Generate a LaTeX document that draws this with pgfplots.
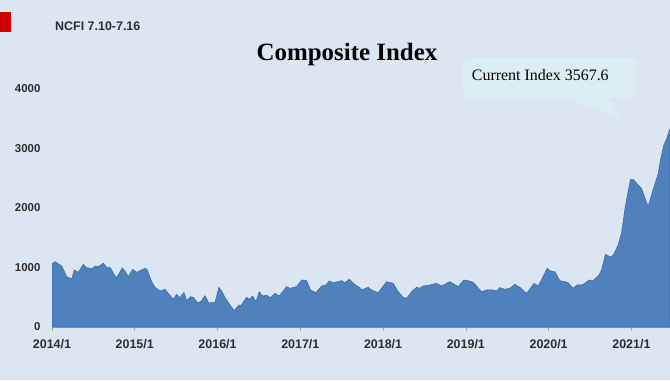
\documentclass[border=0pt]{standalone}
\usepackage{pgfplots}
\pgfplotsset{compat=1.18}
\usepackage{fontspec}
\setmainfont{Liberation Serif}
\newfontfamily\arial{Liberation Sans}
\definecolor{bgc}{HTML}{DCE6F2}
\definecolor{areac}{HTML}{4F81BD}
\definecolor{edgec}{HTML}{3D6DA6}
\definecolor{callc}{HTML}{DAEEF3}
\definecolor{txtc}{HTML}{2E2E2E}
\begin{document}
\begin{tikzpicture}[x=1bp,y=1bp]
\fill[bgc] (0,0) rectangle (670,380);
\useasboundingbox (0,0) rectangle (670,380);
\fill[red!80!black] (0,347.7) rectangle (10.7,368.3);
\node[anchor=base west, inner sep=0, font=\arial\bfseries\fontsize{12.5}{14}\selectfont, text=txtc] at (55,349.3) {NCFI 7.10-7.16};
\node[anchor=base, inner sep=0, font=\bfseries\fontsize{25}{28}\selectfont] at (347,320) {Composite Index};
\begin{axis}[
  at={(52bp,53bp)}, anchor=south west,
  width=618bp, height=238bp, scale only axis,
  xmin=0, xmax=89.6, ymin=0, ymax=4000,
  axis lines*=left,
  y axis line style={draw=none},
  x axis line style={draw=gray!70, line width=0.6bp},
  xtick={0,12,...,84},
  xticklabels={2014/1,2015/1,2016/1,2017/1,2018/1,2019/1,2020/1,2021/1},
  ytick={0,1000,...,4000},
  yticklabels={0,1000,2000,3000,4000},
  x tick style={draw=gray!70, line width=0.6bp},
  tick align=outside,
  major tick length=4bp,
  y tick style={draw=none},
  ymajorgrids,
  major grid style={densely dotted, draw=gray!25, line width=0.5bp},
  xticklabel style={font=\arial\bfseries\fontsize{12.5}{14}\selectfont, text=txtc, yshift=-5bp},
  yticklabel style={font=\arial\bfseries\fontsize{11.5}{13}\selectfont, text=txtc, xshift=-4bp},
  /pgf/number format/assume math mode=true,
  clip=true,
]
\addplot[fill=areac, draw=edgec, line width=0.6bp] table[x=m, y=v] {
m v
0 1059
0.43 1098
1.41 1025
2.13 846
2.86 807
3.23 958
3.81 919
4.54 1053
5.03 997
5.84 980
6.23 1025
6.71 1014
7.43 1070
7.93 1003
8.41 1003
9.28 829
9.61 874
10.19 992
10.58 941
11.06 846
11.70 969
12.28 919
13.0 958
13.48 986
13.81 958
14.45 762
14.93 667
15.65 605
16.38 633
16.86 566
17.58 465
18.07 549
18.55 493
19.13 583
19.52 442
20.10 509
20.48 498
21.12 409
21.59 426
22.17 526
22.75 398
23.14 415
23.62 409
24.20 667
24.59 605
25.07 499
25.80 370
26.42 274
27.10 370
27.39 359
28.22 499
28.59 465
29.09 521
29.57 426
30.04 594
30.54 521
31.12 532
31.70 493
32.32 566
32.94 521
34.01 678
34.49 650
35.46 678
36.19 790
36.91 779
37.49 622
38.26 577
39.09 689
39.71 706
40.19 773
40.77 745
41.49 762
41.99 779
42.46 745
43.09 801
43.91 715
44.64 661
44.88 622
45.84 667
46.33 622
47.29 577
48.51 762
49.46 734
50.19 594
50.91 499
51.41 482
52.13 594
52.86 667
53.33 650
53.81 689
54.54 700
55.75 734
56.48 689
57.68 762
58.88 678
59.71 790
60.33 779
61.06 751
62.28 594
63.0 622
63.96 622
64.45 605
64.93 661
65.65 633
66.38 650
67.10 717
67.83 667
68.80 566
69.90 734
70.48 689
70.97 790
71.78 986
72.28 941
72.90 930
73.62 779
74.35 762
74.83 745
75.55 650
76.13 706
76.77 706
77.25 734
77.87 790
78.45 779
79.32 874
79.67 958
80.25 1221
80.97 1171
81.45 1221
82.07 1378
82.57 1574
83.04 1966
83.38 2190
83.87 2482
84.25 2482
84.97 2387
85.46 2331
86.42 2022
87.14 2303
87.87 2571
88.22 2807
88.70 3059
89.09 3154
89.60 3339
} \closedcycle;
\end{axis}
\fill[callc, rounded corners=4] (463,282) rectangle (636,322);
\fill[callc] (565,282.5) -- (623,260) -- (608,282.5) -- cycle;
\node[anchor=base west, inner sep=0, font=\fontsize{16}{18}\selectfont] at (471.7,300) {Current Index 3567.6};
\end{tikzpicture}
\end{document}
